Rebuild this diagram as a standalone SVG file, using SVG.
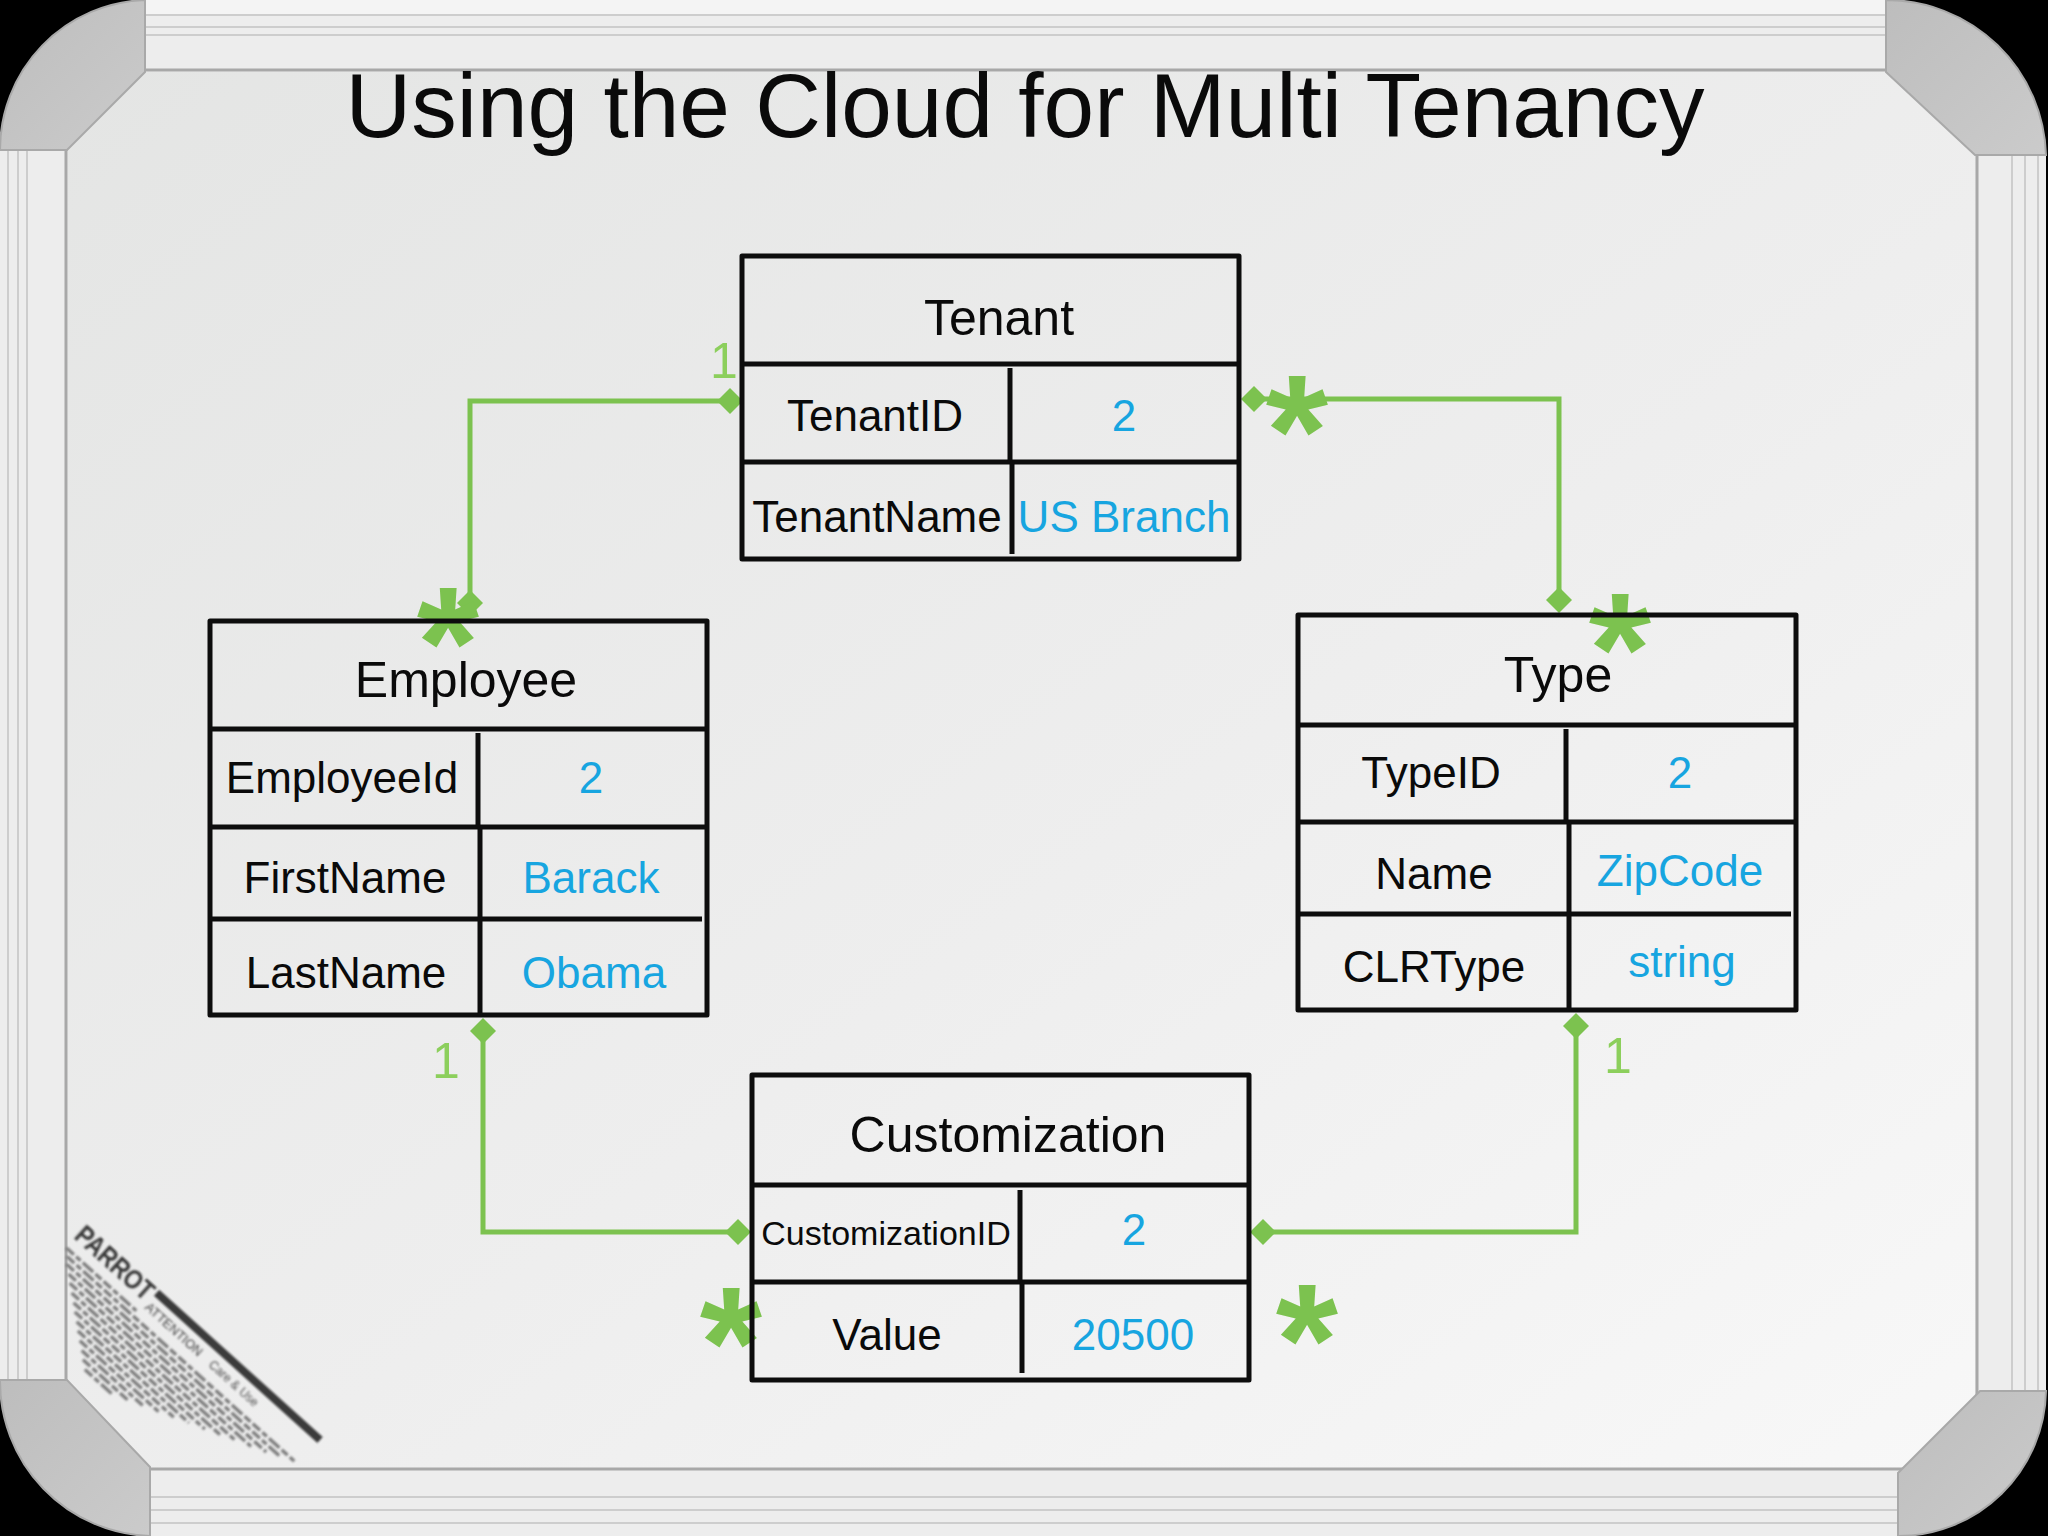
<svg xmlns="http://www.w3.org/2000/svg" width="2048" height="1536" viewBox="0 0 2048 1536">
  <style>
    text { font-family: "Liberation Sans", Arial, sans-serif; }
    .title { font-size: 91px; fill: #0a0a0a; text-anchor: middle; }
    .hdr { font-size: 50px; fill: #0a0a0a; text-anchor: middle; }
    .lbl { font-size: 44px; fill: #0a0a0a; text-anchor: middle; }
    .val { font-size: 44px; fill: #17a5e0; text-anchor: middle; }
    .box { fill: none; stroke: #0d0d0d; stroke-width: 5; stroke-linejoin: round; }
    .div { stroke: #0d0d0d; stroke-width: 5; }
    .conn { fill: none; stroke: #7cc24f; stroke-width: 5; }
    .one { font-size: 50px; fill: #8ccf5c; text-anchor: middle; }
    .star { font-size: 160px; font-weight: bold; fill: #7cc24f; text-anchor: middle; }
    .strip { fill: #ededed; }
    .groove { stroke: #cdcdcd; stroke-width: 2; }
    .edge { stroke: #a8a8a8; stroke-width: 3; }
    .corner { fill: url(#cornerGrad); stroke: #a9a9a9; stroke-width: 2; }
    .fine { stroke: #6e6e6e; stroke-width: 3; stroke-dasharray: 10 3 6 3 14 3 8 3; }
  </style>
  <defs>
    <linearGradient id="boardGrad" x1="0" y1="0" x2="1" y2="1">
      <stop offset="0" stop-color="#e4e5e4"/>
      <stop offset="0.55" stop-color="#eeeeee"/>
      <stop offset="1" stop-color="#f8f8f8"/>
    </linearGradient>
    <linearGradient id="cornerGrad" x1="0" y1="0" x2="1" y2="1">
      <stop offset="0" stop-color="#bdbdbd"/>
      <stop offset="1" stop-color="#cbcbcb"/>
    </linearGradient>
    <marker id="dia" viewBox="-14 -14 28 28" markerWidth="28" markerHeight="28" markerUnits="userSpaceOnUse" refX="0" refY="0" orient="auto">
      <path d="M-13,0 L0,-13 L13,0 L0,13 Z" fill="#7cc24f"/>
    </marker>
    <filter id="soft" x="-10%" y="-10%" width="120%" height="120%">
      <feGaussianBlur stdDeviation="0.9"/>
    </filter>
  </defs>

  <!-- background & whiteboard frame -->
  <rect x="0" y="0" width="2048" height="1536" fill="#000"/>
  <rect x="60" y="65" width="1925" height="1410" fill="url(#boardGrad)"/>

  <g id="frame">
    <!-- top strip -->
    <rect class="strip" x="140" y="0" width="1752" height="72"/>
    <rect x="140" y="0" width="1752" height="14" fill="#f4f4f4"/>
    <line class="groove" x1="140" y1="15" x2="1892" y2="15"/>
    <line class="groove" x1="140" y1="27" x2="1892" y2="27"/>
    <line class="groove" x1="140" y1="35" x2="1892" y2="35"/>
    <line class="edge" x1="140" y1="70" x2="1892" y2="70"/>
    <!-- bottom strip -->
    <rect class="strip" x="145" y="1468" width="1758" height="68"/>
    <line class="edge" x1="145" y1="1469" x2="1903" y2="1469"/>
    <line class="groove" x1="145" y1="1497" x2="1903" y2="1497"/>
    <line class="groove" x1="145" y1="1510" x2="1903" y2="1510"/>
    <line class="groove" x1="145" y1="1523" x2="1903" y2="1523"/>
    <!-- left strip -->
    <rect class="strip" x="0" y="145" width="68" height="1240"/>
    <line class="groove" x1="8" y1="145" x2="8" y2="1385"/>
    <line class="groove" x1="18" y1="145" x2="18" y2="1385"/>
    <line class="groove" x1="27" y1="145" x2="27" y2="1385"/>
    <line class="edge" x1="66" y1="145" x2="66" y2="1385"/>
    <!-- right strip -->
    <rect class="strip" x="1975" y="150" width="71" height="1245"/>
    <line class="edge" x1="1977" y1="150" x2="1977" y2="1395"/>
    <line class="groove" x1="2012" y1="150" x2="2012" y2="1395"/>
    <line class="groove" x1="2025" y1="150" x2="2025" y2="1395"/>
    <line class="groove" x1="2038" y1="150" x2="2038" y2="1395"/>
    <!-- corners -->
    <path class="corner" d="M145,0 L145,72 L67,150 L0,150 A150,150 0 0 1 145,0 Z"/>
    <path class="corner" d="M1886,0 L1886,72 L1975,155 L2046,155 A160,160 0 0 0 1886,0 Z"/>
    <path class="corner" d="M0,1380 L67,1380 L150,1467 L150,1536 A155,155 0 0 1 0,1380 Z"/>
    <path class="corner" d="M1980,1391 L2046,1391 A148,148 0 0 1 1898,1536 L1898,1473 Z"/>
  </g>

  <!-- sticker -->
  <g id="sticker" transform="translate(70,1235) rotate(42)" filter="url(#soft)">
    <text x="4" y="0" font-size="28" font-weight="bold" fill="#353535" textLength="96" lengthAdjust="spacingAndGlyphs">PARROT</text>
    <rect x="103" y="-19" width="220" height="8" fill="#3a3a3a"/>
    <text x="104" y="5" font-size="13" fill="#404040">ATTENTION</text>
    <text x="190" y="5" font-size="12" fill="#505050">Care &amp; Use</text>
    <line class="fine" x1="6" y1="12" x2="100" y2="12"/>
    <line class="fine" x1="12" y1="18" x2="318" y2="18"/>
    <line class="fine" x1="17" y1="24" x2="306" y2="24"/>
    <line class="fine" x1="25" y1="30" x2="291" y2="30"/>
    <line class="fine" x1="32" y1="36" x2="276" y2="36"/>
    <line class="fine" x1="40" y1="42" x2="260" y2="42"/>
    <line class="fine" x1="48" y1="48" x2="245" y2="48"/>
    <line class="fine" x1="55" y1="54" x2="230" y2="54"/>
    <line class="fine" x1="63" y1="60" x2="214" y2="60"/>
    <line class="fine" x1="70" y1="66" x2="199" y2="66"/>
    <line class="fine" x1="78" y1="72" x2="184" y2="72"/>
    <line class="fine" x1="86" y1="78" x2="168" y2="78"/>
    <line class="fine" x1="93" y1="84" x2="153" y2="84"/>
    <line class="fine" x1="101" y1="90" x2="138" y2="90"/>
  </g>

  <text class="title" x="1025" y="137">Using the Cloud for Multi Tenancy</text>

  <!-- connectors -->
  <g id="connectors">
    <path class="conn" d="M730,401 H470 V603" marker-start="url(#dia)" marker-end="url(#dia)"/>
    <path class="conn" d="M1254,399 H1559 V600" marker-start="url(#dia)" marker-end="url(#dia)"/>
    <path class="conn" d="M483,1031 V1232 H738" marker-start="url(#dia)" marker-end="url(#dia)"/>
    <path class="conn" d="M1576,1026 V1232 H1263" marker-start="url(#dia)" marker-end="url(#dia)"/>
    <text class="one" x="724" y="378">1</text>
    <text class="one" x="446" y="1078">1</text>
    <text class="one" x="1618" y="1073">1</text>
    <text class="star" x="448" y="698">*</text>
    <text class="star" x="1297" y="486">*</text>
    <text class="star" x="1620" y="704">*</text>
    <text class="star" x="731" y="1398">*</text>
    <text class="star" x="1307" y="1395">*</text>
  </g>

  <!-- Tenant -->
  <g id="tenant">
    <rect class="box" x="742" y="256" width="497" height="303"/>
    <line class="div" x1="742" y1="364" x2="1239" y2="364"/>
    <line class="div" x1="742" y1="462" x2="1239" y2="462"/>
    <line class="div" x1="1010" y1="368" x2="1010" y2="462"/>
    <line class="div" x1="1012" y1="462" x2="1012" y2="554"/>
    <text class="hdr" x="999" y="335">Tenant</text>
    <text class="lbl" x="875" y="431">TenantID</text>
    <text class="val" x="1124" y="431">2</text>
    <text class="lbl" x="877" y="532">TenantName</text>
    <text class="val" x="1124" y="532">US Branch</text>
  </g>

  <!-- Employee -->
  <g id="employee">
    <rect class="box" x="210" y="621" width="497" height="394"/>
    <line class="div" x1="210" y1="729" x2="707" y2="729"/>
    <line class="div" x1="210" y1="827" x2="707" y2="827"/>
    <line class="div" x1="210" y1="919" x2="702" y2="919"/>
    <line class="div" x1="478" y1="733" x2="478" y2="827"/>
    <line class="div" x1="480" y1="827" x2="480" y2="1015"/>
    <text class="hdr" x="466" y="697">Employee</text>
    <text class="lbl" x="342" y="793">EmployeeId</text>
    <text class="val" x="591" y="793">2</text>
    <text class="lbl" x="345" y="893">FirstName</text>
    <text class="val" x="591" y="893">Barack</text>
    <text class="lbl" x="346" y="988">LastName</text>
    <text class="val" x="594" y="988">Obama</text>
  </g>

  <!-- Type -->
  <g id="type">
    <rect class="box" x="1298" y="615" width="498" height="395"/>
    <line class="div" x1="1298" y1="725" x2="1796" y2="725"/>
    <line class="div" x1="1298" y1="822" x2="1796" y2="822"/>
    <line class="div" x1="1298" y1="914" x2="1791" y2="914"/>
    <line class="div" x1="1566" y1="729" x2="1566" y2="822"/>
    <line class="div" x1="1569" y1="822" x2="1569" y2="1010"/>
    <text class="hdr" x="1558" y="692">Type</text>
    <text class="lbl" x="1431" y="788">TypeID</text>
    <text class="val" x="1680" y="788">2</text>
    <text class="lbl" x="1434" y="889">Name</text>
    <text class="val" x="1680" y="886">ZipCode</text>
    <text class="lbl" x="1434" y="982">CLRType</text>
    <text class="val" x="1682" y="977">string</text>
  </g>

  <!-- Customization -->
  <g id="customization">
    <rect class="box" x="752" y="1075" width="497" height="305"/>
    <line class="div" x1="752" y1="1185" x2="1249" y2="1185"/>
    <line class="div" x1="752" y1="1282" x2="1249" y2="1282"/>
    <line class="div" x1="1020" y1="1190" x2="1020" y2="1282"/>
    <line class="div" x1="1022" y1="1282" x2="1022" y2="1373"/>
    <text class="hdr" x="1008" y="1152">Customization</text>
    <text class="lbl" x="886" y="1245" style="font-size:34px">CustomizationID</text>
    <text class="val" x="1134" y="1245">2</text>
    <text class="lbl" x="887" y="1350">Value</text>
    <text class="val" x="1133" y="1350">20500</text>
  </g>
</svg>
